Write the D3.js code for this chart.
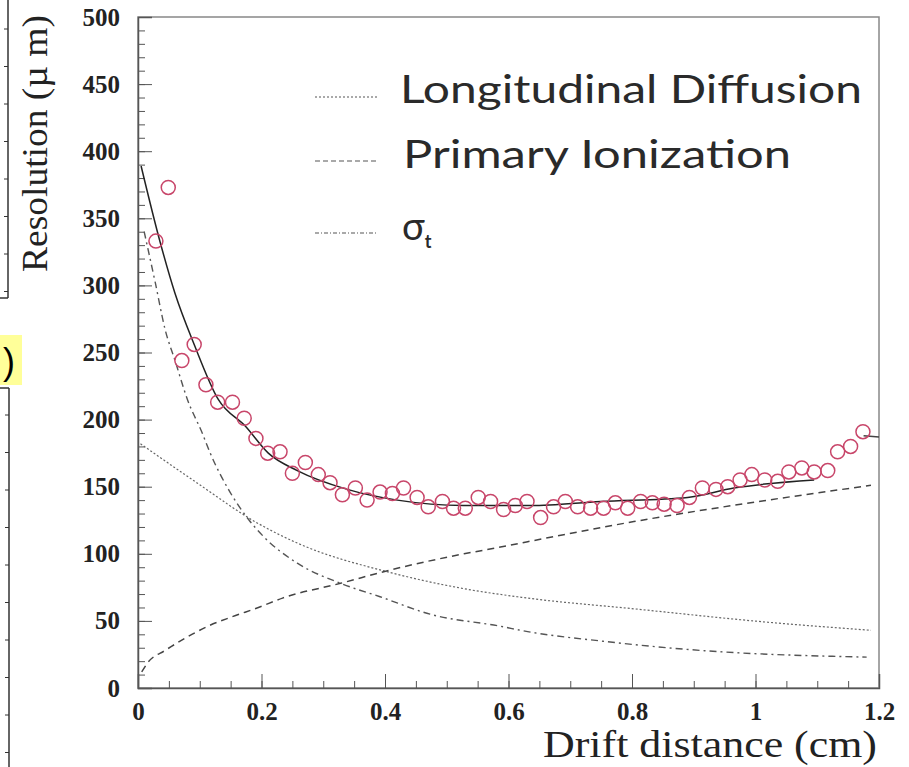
<!DOCTYPE html>
<html>
<head>
<meta charset="utf-8">
<script src="https://cdn.jsdelivr.net/npm/d3@7"></script>
<style>
  body { margin: 0; background: #fff; }
</style>
</head>
<body>
<div id="chart"></div>
<script>
// measured points (drift distance in cm, resolution in um)
const driftX = [0.029, 0.049, 0.071, 0.091, 0.110, 0.129, 0.153, 0.172, 0.191, 0.210,
    0.230, 0.250, 0.271, 0.292, 0.311, 0.331, 0.352, 0.371, 0.392, 0.412,
    0.430, 0.452, 0.470, 0.493, 0.511, 0.530, 0.551, 0.571, 0.592, 0.611,
    0.630, 0.652, 0.673, 0.692, 0.712, 0.733, 0.754, 0.773, 0.793, 0.814,
    0.833, 0.852, 0.873, 0.893, 0.914, 0.936, 0.955, 0.975, 0.994, 1.015,
    1.036, 1.054, 1.075, 1.095, 1.117, 1.133, 1.154, 1.174];
const resolution = [333, 373, 244, 256, 226, 213, 213, 201, 186, 175,
    176, 160, 168, 159, 153, 144, 149, 140, 146, 145,
    149, 142, 135, 139, 134, 134, 142, 139, 133, 136,
    139, 127, 135, 139, 135, 134, 134, 138, 134, 139,
    138, 137, 136, 142, 149, 148, 150, 155, 159, 155,
    154, 161, 164, 161, 162, 176, 180, 191];

// total fit
const fitX = [0.005, 0.036, 0.060, 0.091, 0.130, 0.174, 0.211, 0.258, 0.339, 0.420, 0.527, 0.636, 0.749, 0.890, 0.965, 1.095];
const fitY = [389, 332, 294, 256, 215, 195, 175, 162, 148, 140, 136, 136, 139, 142, 149, 155];
const fitTailX = [1.175, 1.2];
const fitTailY = [188, 187];

// longitudinal diffusion (rising, dashed)
const diffX = [0.006, 0.016, 0.044, 0.076, 0.113, 0.152, 0.195, 0.234, 0.328, 0.409, 0.528, 0.587, 0.631, 0.803, 1.020, 1.187];
const diffY = [12, 19, 28, 37, 46, 53, 60, 67, 78, 88, 100, 105, 109, 124, 140, 151];

// primary ionization (steep, dash-dot)
const primX = [0.010, 0.028, 0.044, 0.060, 0.080, 0.104, 0.117, 0.149, 0.180, 0.203, 0.258, 0.328, 0.392, 0.473, 0.587, 0.631, 0.750, 0.911, 1.180];
const primY = [340, 302, 267, 244, 215, 190, 175, 146, 125, 113, 93, 78, 68, 55, 46, 42, 35, 28, 23];

// sigma_t (dotted)
const sigX = [0.004, 0.095, 0.193, 0.258, 0.409, 0.528, 0.631, 0.803, 1.020, 1.187];
const sigY = [182, 153, 123, 108, 86, 74, 67, 59, 49, 43];

const legendLabels = ["Longitudinal Diffusion", "Primary Ionization", "σ"];
const yTicks = [0, 50, 100, 150, 200, 250, 300, 350, 400, 450, 500];
const xTicks = [0, 0.2, 0.4, 0.6, 0.8, 1, 1.2];

const width = 909, height = 767;
const plotLeft = 138, plotRight = 879, plotTop = 17, plotBottom = 688;

const svg = d3.select("#chart").append("svg")
    .attr("width", width)
    .attr("height", height)
    .style("font-family", "'Liberation Serif', 'Times New Roman', serif");

const x = d3.scaleLinear().domain([0, 1.2]).range([plotLeft, plotRight]);
const y = d3.scaleLinear().domain([0, 500]).range([plotBottom, plotTop]);

// leftovers of the neighbouring panel on the left edge
svg.append("line").attr("x1", 8).attr("x2", 8).attr("y1", 0).attr("y2", 298).attr("stroke", "#333").attr("stroke-width", 1.5);
svg.append("line").attr("x1", 0).attr("x2", 8).attr("y1", 298).attr("y2", 298).attr("stroke", "#333").attr("stroke-width", 1.5);
d3.range(29, 298, 37.5).forEach(v => {
    svg.append("line").attr("x1", 4).attr("x2", 8).attr("y1", v).attr("y2", v).attr("stroke", "#333");
});
svg.append("rect").attr("x", 0).attr("y", 335).attr("width", 22).attr("height", 50).attr("fill", "#ffff99");
svg.append("text").attr("x", 3).attr("y", 374).attr("font-family", "'Liberation Sans', sans-serif")
    .attr("font-size", 36).text(")");
svg.append("line").attr("x1", 9).attr("x2", 9).attr("y1", 388).attr("y2", 767).attr("stroke", "#333").attr("stroke-width", 1.5);
svg.append("line").attr("x1", 0).attr("x2", 9).attr("y1", 388).attr("y2", 388).attr("stroke", "#333").attr("stroke-width", 1.5);
d3.range(415, 767, 37.5).forEach(v => {
    svg.append("line").attr("x1", 5).attr("x2", 9).attr("y1", v).attr("y2", v).attr("stroke", "#333");
});

// frame
svg.append("rect")
    .attr("x", plotLeft).attr("y", plotTop)
    .attr("width", plotRight - plotLeft).attr("height", plotBottom - plotTop)
    .attr("fill", "none").attr("stroke", "#888").attr("stroke-width", 1.5);

const tickFont = g => g.selectAll("text")
    .attr("font-family", "'Liberation Serif', serif")
    .attr("font-weight", "bold")
    .attr("font-size", 25)
    .attr("fill", "#222");

// minor + major ticks (inside)
svg.append("g").attr("transform", `translate(${plotLeft},0)`)
    .call(d3.axisLeft(y).tickValues(d3.range(0, 501, 10)).tickSize(-7).tickFormat(""))
    .call(g => g.select(".domain").remove())
    .selectAll("line").attr("stroke", "#555");
svg.append("g").attr("transform", `translate(${plotLeft},0)`)
    .call(d3.axisLeft(y).tickValues(yTicks).tickSize(-14).tickPadding(18))
    .call(g => g.select(".domain").attr("stroke", "#555").attr("stroke-width", 1.5))
    .call(g => g.selectAll("line").attr("stroke", "#555"))
    .call(tickFont);

svg.append("g").attr("transform", `translate(0,${plotBottom})`)
    .call(d3.axisBottom(x).tickValues(d3.range(0, 1.2001, 0.05)).tickSize(-7).tickFormat(""))
    .call(g => g.select(".domain").remove())
    .selectAll("line").attr("stroke", "#555");
svg.append("g").attr("transform", `translate(0,${plotBottom})`)
    .call(d3.axisBottom(x).tickValues(xTicks).tickSize(-14).tickPadding(14).tickFormat(d3.format("")))
    .call(g => g.select(".domain").attr("stroke", "#555").attr("stroke-width", 1.5))
    .call(g => g.selectAll("line").attr("stroke", "#555"))
    .call(tickFont);

// axis titles
svg.append("text")
    .attr("transform", "translate(47,15) rotate(-90)")
    .attr("text-anchor", "end")
    .attr("font-size", 36)
    .attr("fill", "#222")
    .attr("textLength", 257).attr("lengthAdjust", "spacingAndGlyphs")
    .text("Resolution (µ m)");

svg.append("text")
    .attr("x", plotRight - 2).attr("y", 757)
    .attr("text-anchor", "end")
    .attr("font-size", 38)
    .attr("fill", "#222")
    .attr("textLength", 334).attr("lengthAdjust", "spacingAndGlyphs")
    .text("Drift distance (cm)");

const line = d3.line()
    .x(d => x(d[0]))
    .y(d => y(d[1]))
    .curve(d3.curveMonotoneX);

const zipXY = (xs, ys) => xs.map((v, i) => [v, ys[i]]);

const curves = [
    { data: zipXY(sigX, sigY), dash: "2,2", color: "#666", w: 1.2 },
    { data: zipXY(primX, primY), dash: "7,4,2,4", color: "#555", w: 1.4 },
    { data: zipXY(diffX, diffY), dash: "7,5", color: "#444", w: 1.5 },
    { data: zipXY(fitX, fitY), dash: null, color: "#222", w: 1.5 },
    { data: zipXY(fitTailX, fitTailY), dash: null, color: "#444", w: 1.5 }
];

curves.forEach(c => {
    svg.append("path")
        .datum(c.data)
        .attr("fill", "none")
        .attr("stroke", c.color)
        .attr("stroke-width", c.w)
        .attr("stroke-dasharray", c.dash)
        .attr("d", line);
});

// data markers
svg.append("g").selectAll("circle")
    .data(driftX.map((v, i) => ({ x: v, y: resolution[i] })))
    .enter()
    .append("circle")
    .attr("cx", d => x(d.x))
    .attr("cy", d => y(d.y))
    .attr("r", 7)
    .attr("fill", "none")
    .attr("stroke", "#c8466a")
    .attr("stroke-width", 1.5);

// legend
const legendY = [97, 161, 233];
const legendDash = ["2,2", "5,3", "4,2,1,2"];
const legendFont = "'Lato', 'DejaVu Sans', sans-serif";
legendLabels.forEach((lbl, i) => {
    svg.append("line")
        .attr("x1", 315).attr("x2", 378)
        .attr("y1", legendY[i]).attr("y2", legendY[i])
        .attr("stroke", "#555")
        .attr("stroke-width", 1.2)
        .attr("stroke-dasharray", legendDash[i]);
});
svg.append("text")
    .attr("x", 400).attr("y", 103)
    .attr("font-family", legendFont).attr("font-size", 38).attr("fill", "#2a2a2a")
    .attr("textLength", 462).attr("lengthAdjust", "spacingAndGlyphs")
    .text(legendLabels[0]);
svg.append("text")
    .attr("x", 403).attr("y", 168)
    .attr("font-family", legendFont).attr("font-size", 38).attr("fill", "#2a2a2a")
    .attr("textLength", 388).attr("lengthAdjust", "spacingAndGlyphs")
    .text(legendLabels[1]);
const sig = svg.append("text")
    .attr("x", 402).attr("y", 240)
    .attr("font-family", legendFont).attr("font-size", 38).attr("fill", "#2a2a2a")
    .text(legendLabels[2]);
sig.append("tspan").attr("dy", 8).attr("font-size", 18).attr("font-weight", "bold").text("t");
</script>
</body>
</html>
